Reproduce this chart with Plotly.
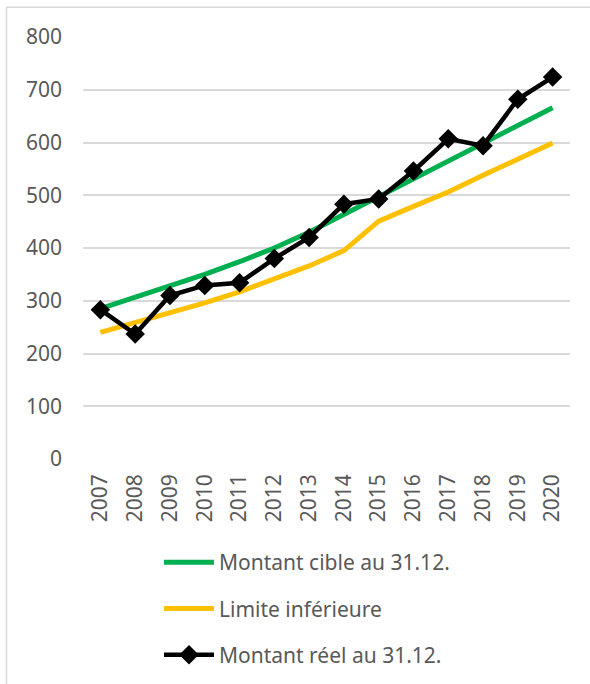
import plotly.graph_objects as go

years = ["2007", "2008", "2009", "2010", "2011", "2012", "2013",
         "2014", "2015", "2016", "2017", "2018", "2019", "2020"]
montant_cible = [285, 306, 327, 350, 374, 400, 430, 464, 496, 531, 564, 598, 632, 666]
limite_inf = [240, 258, 276, 296, 317, 341, 366, 395, 451, 479, 506, 538, 569, 599]
montant_reel = [283, 237, 310, 329, 334, 380, 420, 483, 493, 546, 607, 594, 682, 724]
y_ticks = [0, 100, 200, 300, 400, 500, 600, 700, 800]

W, H = 590, 684
L, R, T, B = 83, 20, 36.7, 224.7
pw, ph = W - L - R, H - T - B

font_fam = "Noto Sans"
grey = "#595959"

fig = go.Figure()
fig.add_trace(go.Scatter(x=years, y=montant_cible, mode="lines",
                         name="Montant cible au 31.12.", legendgroup="a",
                         line=dict(color="#00B050", width=5)))
fig.add_trace(go.Scatter(x=years, y=limite_inf, mode="lines",
                         name="Limite inférieure", legendgroup="b",
                         line=dict(color="#FFC000", width=5)))
fig.add_trace(go.Scatter(x=years, y=montant_reel, mode="lines+markers",
                         name="Montant réel au 31.12.", legendgroup="c",
                         line=dict(color="#000000", width=4.5),
                         marker=dict(symbol="diamond", size=15, color="#000000")))

# outer chart frame (top and left edges visible)
fig.add_shape(type="rect", xref="paper", yref="paper",
              x0=(6.5 - L) / pw, x1=1.2, y0=-1.0, y1=(H - B - 7) / ph,
              line=dict(color="#D9D9D9", width=1.5), layer="below")

fig.update_layout(
    width=W, height=H,
    margin=dict(l=L, r=R, t=T, b=B, pad=0, autoexpand=False),
    paper_bgcolor="white", plot_bgcolor="white",
    font=dict(family=font_fam, size=21, color=grey),
    showlegend=True,
    legend=dict(xref="container", x=159 / W, xanchor="left",
                yref="container", y=1 - 542 / H, yanchor="top",
                orientation="v", traceorder="grouped", tracegroupgap=16,
                itemwidth=50,
                font=dict(family=font_fam, size=21, color=grey),
                bgcolor="rgba(0,0,0,0)"),
    xaxis=dict(type="category", range=[-0.5, 13.5], showgrid=False,
               showline=False, zeroline=False, ticks="", tickangle=-90,
               ticklabelstandoff=10,
               tickfont=dict(family=font_fam, size=21, color=grey)),
    yaxis=dict(range=[0, 800], tickvals=y_ticks, showgrid=True,
               gridcolor="#D9D9D9", gridwidth=1.5, zeroline=False,
               showline=False, ticks="", ticklabelstandoff=20,
               tickfont=dict(family=font_fam, size=21, color=grey)),
)

fig.write_html("out.html",
               config={"displayModeBar": False},
               post_script="document.body.style.margin='0';document.body.style.overflow='hidden';")
